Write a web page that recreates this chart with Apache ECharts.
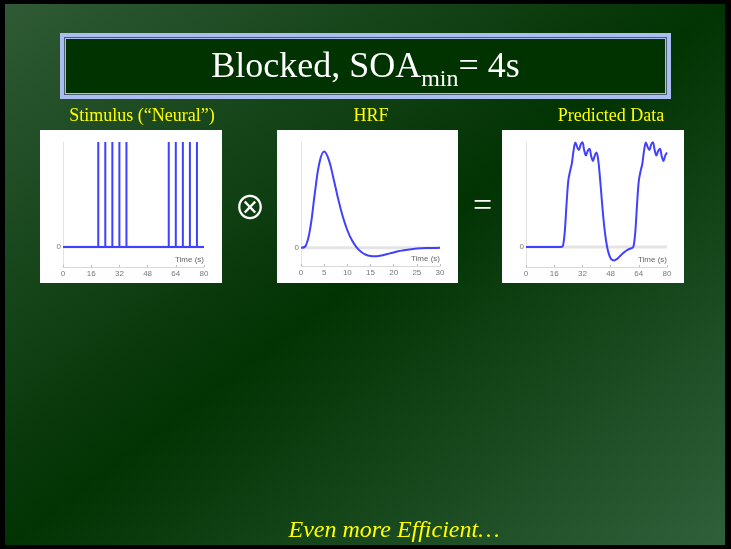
<!DOCTYPE html>
<html>
<head>
<meta charset="utf-8">
<title>Blocked, SOAmin = 4s</title>
<script src="https://cdn.jsdelivr.net/npm/echarts@6/dist/echarts.min.js"></script>
<style>
  html, body { margin: 0; padding: 0; background: #000; }
  #chart { width: 731px; height: 549px; }
</style>
</head>
<body>
<div id="chart"></div>
<script>
// ---- text ----
const titleMain = 'Blocked, SOA';
const titleSub = 'min';
const titleTail = '= 4s';
const panelTitles = ['Stimulus (\u201CNeural\u201D)', 'HRF', 'Predicted Data'];
const footerText = 'Even more Efficient\u2026';
const axisTitle = 'Time (s)';

// ---- stimulus: impulse onsets (s), two blocks of five, 4 s apart ----
const stimulusOnsets = [20, 24, 28, 32, 36, 60, 64, 68, 72, 76];
const stimulusAmplitude = 1;
const stimulusDuration = 80;

// ---- haemodynamic response function, sampled every second from 0 to 30 s ----
const hrfTime = [0, 1, 2, 3, 4, 5, 6, 7, 8, 9, 10, 11, 12, 13, 14, 15,
                 16, 17, 18, 19, 20, 21, 22, 23, 24, 25, 26, 27, 28, 29, 30];
const hrfValues = [0, 0.018, 0.205, 0.574, 0.890, 1.000, 0.914, 0.724, 0.513, 0.327,
                   0.182, 0.077, 0.004, -0.044, -0.073, -0.086, -0.089, -0.083, -0.073,
                   -0.061, -0.049, -0.037, -0.028, -0.020, -0.014, -0.009, -0.006,
                   -0.004, -0.003, -0.002, -0.001];

// ---- predicted BOLD signal, sampled every second from 0 to 80 s ----
const predictedValues = [
  0, 0, 0, 0, 0, 0, 0, 0, 0, 0,
  0, 0, 0, 0, 0, 0, 0, 0, 0, 0,
  0, 0.018, 0.205, 0.574, 0.890, 1.018, 1.119, 1.298, 1.403, 1.345,
  1.301, 1.375, 1.407, 1.301, 1.228, 1.289, 1.318, 1.218, 1.155, 1.228,
  1.269, 1.163, 0.922, 0.634, 0.365, 0.154, 0.002, -0.094, -0.151, -0.175,
  -0.181, -0.171, -0.155, -0.131, -0.108, -0.085, -0.066, -0.048, -0.035, -0.024,
  -0.017, 0.007, 0.198, 0.570, 0.888, 1.016, 1.118, 1.298, 1.403, 1.345,
  1.301, 1.375, 1.407, 1.301, 1.228, 1.289, 1.318, 1.218, 1.155, 1.228,
  1.269
];

// ---- build series data ----
const stimulusData = [[0, 0]];
stimulusOnsets.forEach(t => {
  stimulusData.push([t, 0], [t, stimulusAmplitude], [t, 0]);
});
stimulusData.push([stimulusDuration, 0]);

const hrfData = hrfTime.map((t, i) => [t, hrfValues[i]]);
const predictedData = predictedValues.map((v, i) => [i, v]);

// ---- styling ----
const SERIF = 'Liberation Serif';
const SANS = 'Liberation Sans';
const YELLOW = '#ffff00';
const BLUE = '#4040ff';

const grids = [
  { left: 63, top: 142, width: 141, height: 125 },
  { left: 301, top: 142, width: 139, height: 124 },
  { left: 526, top: 142, width: 141, height: 125 }
];
const xRanges = [[0, 80, 16], [0, 30, 5], [0, 80, 16]];
const yRanges = [[-0.19, 1.0], [-0.19, 1.1], [-0.27, 1.41]];

function xAxisFor(i) {
  return {
    type: 'value', gridIndex: i, z: 3, position: 'bottom',
    min: xRanges[i][0], max: xRanges[i][1], interval: xRanges[i][2],
    axisLine: { show: true, onZero: false, lineStyle: { color: '#d9d9d9', width: 1 } },
    axisTick: { show: true, inside: true, length: 2, lineStyle: { color: '#bdbdbd' } },
    axisLabel: { color: '#777', fontSize: 8, fontFamily: SANS, margin: 3 },
    splitLine: { show: false },
    name: axisTitle, nameLocation: 'end', nameGap: 0,
    nameTextStyle: { color: '#666', fontSize: 8, fontFamily: SANS,
                     align: 'right', verticalAlign: 'bottom', padding: [0, 0, 3, 0] }
  };
}
function yAxisFor(i) {
  return {
    type: 'value', gridIndex: i, z: 3, position: 'left',
    min: yRanges[i][0], max: yRanges[i][1],
    axisLine: { show: true, onZero: false, lineStyle: { color: '#e3e3e3', width: 1 } },
    axisTick: { show: false },
    axisLabel: {
      color: '#777', fontSize: 8, fontFamily: SANS, margin: 2,
      customValues: [0],
      formatter: v => (Math.abs(v) < 1e-9 ? '0' : '')
    },
    splitLine: { show: false }
  };
}
function zeroLine(i) {
  return {
    type: 'line', xAxisIndex: i, yAxisIndex: i, z: 2, silent: true,
    data: [[xRanges[i][0], 0], [xRanges[i][1], 0]],
    showSymbol: false, symbol: 'none',
    lineStyle: { color: '#e4e4e4', width: 3 }
  };
}

// ---- title with subscript: place pieces by measured width ----
const measureCtx = document.createElement('canvas').getContext('2d');
function textWidth(str, size) {
  measureCtx.font = size + 'px "' + SERIF + '"';
  return measureCtx.measureText(str).width;
}
const w1 = textWidth(titleMain, 36);
const w2 = textWidth(titleSub, 24);
const w3 = textWidth(titleTail, 36);
const titleX = 365.5 - (w1 + w2 + w3) / 2;

function label(text, x, y, size, color, opts) {
  return {
    type: 'text', x: x, y: y, z: 5,
    style: Object.assign({
      text: text, fill: color, fontSize: size, fontFamily: SERIF,
      align: 'center', textAlign: 'center',
      verticalAlign: 'middle', textVerticalAlign: 'middle'
    }, opts || {})
  };
}

// slide background: light corners top-left / bottom-right, dark band along the other diagonal
const slideGradient = new echarts.graphic.LinearGradient(105, -71, 625, 621, [
  { offset: 0, color: '#2f5a35' },
  { offset: 0.5, color: '#023303' },
  { offset: 1, color: '#30603a' }
], true);

const graphics = [
  { type: 'rect', shape: { x: 5, y: 4, width: 720, height: 541 }, z: -3,
    style: { fill: slideGradient } },
  // title box: light double border round a dark fill
  { type: 'rect', shape: { x: 60, y: 33, width: 611, height: 66 }, z: -2, style: { fill: '#a9bdee' } },
  { type: 'rect', shape: { x: 64, y: 37, width: 603, height: 58 }, z: -2, style: { fill: '#4d5d73' } },
  { type: 'rect', shape: { x: 65, y: 38, width: 601, height: 56 }, z: -2, style: { fill: '#a9bdee' } },
  { type: 'rect', shape: { x: 66, y: 39, width: 599, height: 54 }, z: -2, style: { fill: '#003300' } },
  // white plot panels
  { type: 'rect', shape: { x: 40, y: 130, width: 182, height: 153 }, z: -2, style: { fill: '#ffffff' } },
  { type: 'rect', shape: { x: 277, y: 130, width: 181, height: 153 }, z: -2, style: { fill: '#ffffff' } },
  { type: 'rect', shape: { x: 502, y: 130, width: 182, height: 153 }, z: -2, style: { fill: '#ffffff' } },
  // title
  label(titleMain, titleX, 68, 36, '#ffffff', { align: 'left', textAlign: 'left' }),
  label(titleSub, titleX + w1, 79.5, 24, '#ffffff', { align: 'left', textAlign: 'left' }),
  label(titleTail, titleX + w1 + w2, 68, 36, '#ffffff', { align: 'left', textAlign: 'left' }),
  // panel captions
  label(panelTitles[0], 142, 116.5, 18, YELLOW),
  label(panelTitles[1], 371, 116.5, 18, YELLOW),
  label(panelTitles[2], 611, 116.5, 18, YELLOW),
  // operators
  label('\u2297', 250, 206.5, 32, '#ffffff', { fontFamily: '"Noto Sans CJK JP", "DejaVu Sans"' }),
  label('=', 482.5, 207, 34, '#ffffff'),
  // footer
  label(footerText, 394, 531, 24, YELLOW, { fontStyle: 'italic' })
];

const chart = echarts.init(document.getElementById('chart'), null, { renderer: 'canvas' });
chart.setOption({
  backgroundColor: '#000000',
  animation: false,
  graphic: { elements: graphics },
  grid: grids.map(g => Object.assign({ show: false, containLabel: false }, g)),
  xAxis: [xAxisFor(0), xAxisFor(1), xAxisFor(2)],
  yAxis: [yAxisFor(0), yAxisFor(1), yAxisFor(2)],
  series: [
    zeroLine(0), zeroLine(1), zeroLine(2),
    { name: 'Stimulus', type: 'line', xAxisIndex: 0, yAxisIndex: 0, z: 4,
      data: stimulusData, showSymbol: false, symbol: 'none',
      lineStyle: { color: BLUE, width: 2 } },
    { name: 'HRF', type: 'line', xAxisIndex: 1, yAxisIndex: 1, z: 4,
      data: hrfData, showSymbol: false, symbol: 'none', smooth: 0.4,
      lineStyle: { color: BLUE, width: 2 } },
    { name: 'Predicted', type: 'line', xAxisIndex: 2, yAxisIndex: 2, z: 4,
      data: predictedData, showSymbol: false, symbol: 'none', smooth: 0.35,
      lineStyle: { color: BLUE, width: 2 } }
  ]
});
</script>
</body>
</html>
